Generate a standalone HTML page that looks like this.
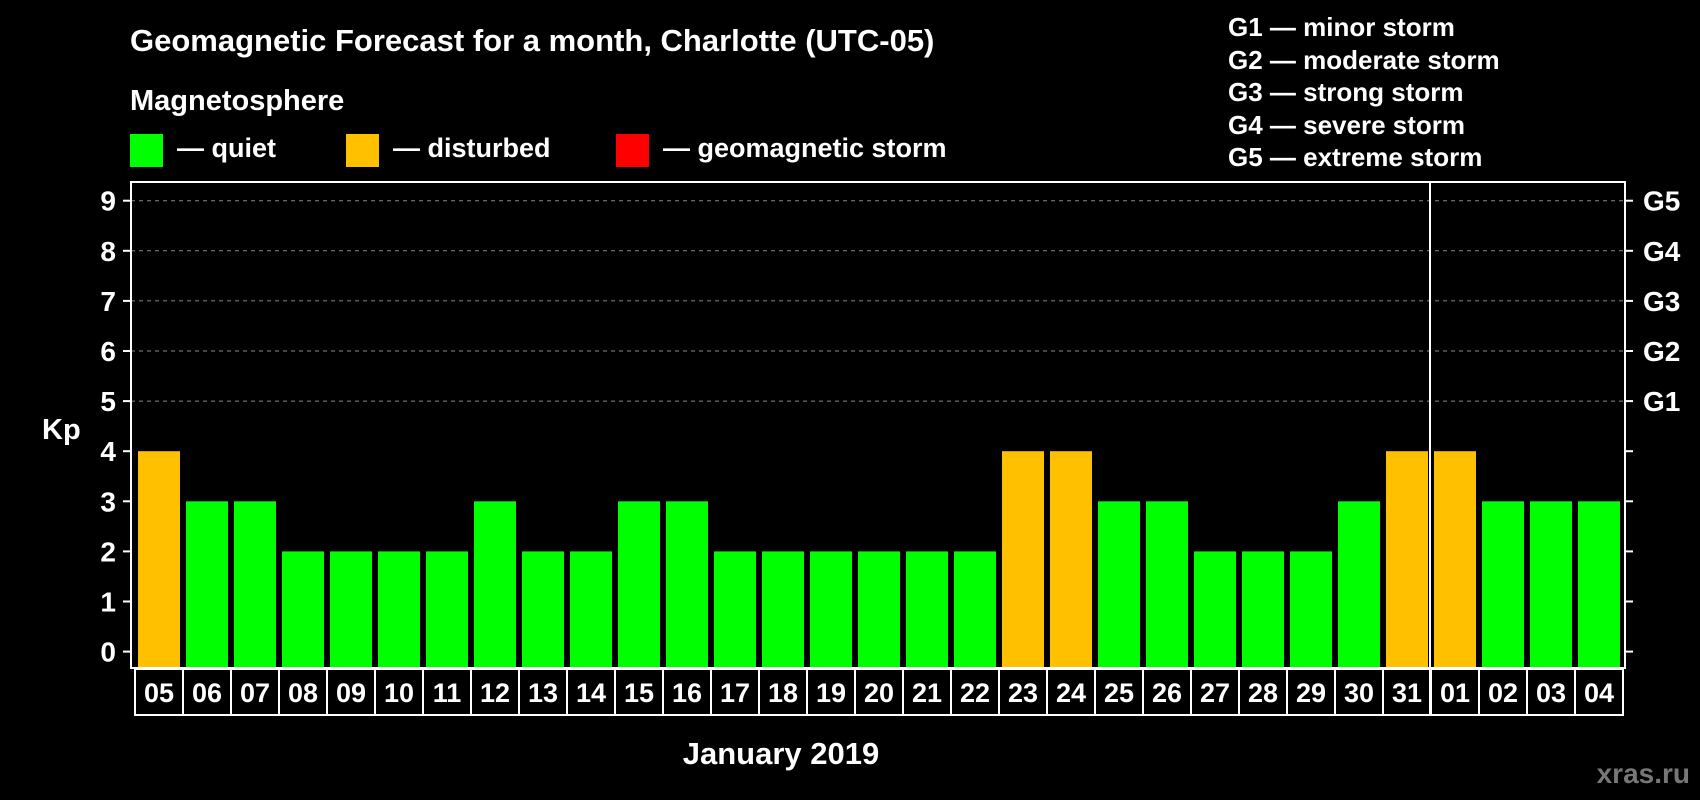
<!DOCTYPE html>
<html><head><meta charset="utf-8"><style>
html,body{margin:0;padding:0;background:#000;}
svg{display:block;font-family:"Liberation Sans",Arial,sans-serif;font-weight:bold;}
</style></head><body>
<svg id="chart" width="1700" height="800" viewBox="0 0 1700 800" xmlns="http://www.w3.org/2000/svg">
<rect width="1700" height="800" fill="#000"/>
<text x="130" y="51" fill="#fff" font-size="31">Geomagnetic Forecast for a month, Charlotte (UTC-05)</text>
<text x="130" y="110" fill="#fff" font-size="29">Magnetosphere</text>
<g><rect x="130" y="134" width="33" height="33" fill="#00ff00"/><text x="177" y="157" fill="#fff" font-size="27">— quiet</text></g>
<g><rect x="346" y="134" width="33" height="33" fill="#ffc000"/><text x="393" y="157" fill="#fff" font-size="27">— disturbed</text></g>
<g><rect x="616" y="134" width="33" height="33" fill="#ff0000"/><text x="663" y="157" fill="#fff" font-size="27">— geomagnetic storm</text></g>
<g fill="#fff" font-size="26">
<text x="1228" y="36">G1 — minor storm</text>
<text x="1228" y="69">G2 — moderate storm</text>
<text x="1228" y="101">G3 — strong storm</text>
<text x="1228" y="134">G4 — severe storm</text>
<text x="1228" y="166">G5 — extreme storm</text>
</g>
<text x="42" y="439" fill="#fff" font-size="29">Kp</text>
<text x="781" y="764" fill="#fff" font-size="31" text-anchor="middle">January 2019</text>
<text x="1690" y="783" fill="#777" font-size="28" text-anchor="end">xras.ru</text>
<g id="grid"></g><g id="bars"></g><g id="axes"></g><g id="dates"></g>
</svg>
<script>
const categories=["05","06","07","08","09","10","11","12","13","14","15","16","17","18","19","20","21","22","23","24","25","26","27","28","29","30","31","01","02","03","04"];
const kpValues=[4,3,3,2,2,2,2,3,2,2,3,3,2,2,2,2,2,2,4,4,3,3,2,2,2,3,4,4,3,3,3];
const yTicks=[0,1,2,3,4,5,6,7,8,9];
const gLabels=["G1","G2","G3","G4","G5"];
const monthBreakIndex=27;
const NS="http://www.w3.org/2000/svg";
const L=131,R=1625,T=182,B=668;
const y0=651.6,unit=50.1;
const yS=v=>y0-v*unit;
const slot=48,x0=135;
const xS=i=>x0+i*slot;
function mk(tag,attrs,parent){const e=document.createElementNS(NS,tag);for(const k in attrs)e.setAttribute(k,attrs[k]);parent.appendChild(e);return e;}
const grid=document.getElementById('grid'),bars=document.getElementById('bars'),axes=document.getElementById('axes'),dates=document.getElementById('dates');
yTicks.forEach(v=>{
  const y=yS(v);
  if(v>=5){const g=mk('line',{x1:L,x2:R,y1:y,y2:y,stroke:'#888','stroke-dasharray':'4,4','stroke-width':1},grid);
  
  }
  const t1=mk('line',{x1:L-8,x2:L,y1:y,y2:y,stroke:'#fff','stroke-width':2},axes);
  
  
  const t2=mk('line',{x1:R,x2:R+8,y1:y,y2:y,stroke:'#fff','stroke-width':2},axes);
  
  
  const lab=mk('text',{x:L-15,y:y+10,fill:'#fff','font-size':28,'text-anchor':'end'},axes);lab.textContent=v;
  
  
  if(v>=5){const gl=mk('text',{x:R+18,y:y+10,fill:'#fff','font-size':28},axes);gl.textContent=gLabels[v-5];
  
  }
});
kpValues.forEach((v,i)=>{
  const col=v>=5?'#ff0000':(v>=4?'#ffc000':'#00ff00');
  const top=yS(v);
  const b=mk('rect',{x:xS(i)+3,y:top,width:42,height:B-top,fill:col},bars);
  
  
  const bx=mk('rect',{x:xS(i),y:B+1,width:slot,height:46,fill:'none',stroke:'#fff','stroke-width':2},dates);
  
  
  const dt=mk('text',{x:xS(i)+slot/2,y:B+34,fill:'#fff','font-size':27,'text-anchor':'middle'},dates);dt.textContent=categories[i];
  
  
});
const fr=mk('rect',{x:L,y:T,width:R-L,height:B-T,fill:'none',stroke:'#fff','stroke-width':2},axes);


const mx=xS(monthBreakIndex)-1;
const ml=mk('line',{x1:mx,x2:mx,y1:T,y2:B+47,stroke:'#fff','stroke-width':2},axes);


</script>
</body></html>
